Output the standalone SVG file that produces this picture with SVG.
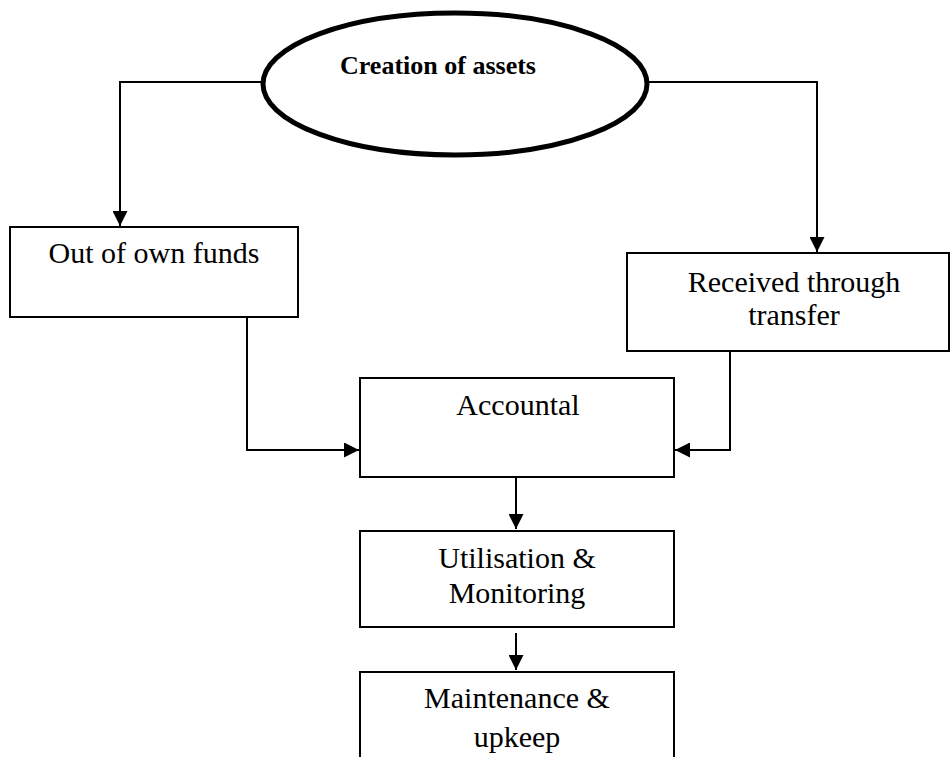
<svg xmlns="http://www.w3.org/2000/svg" width="952" height="757" viewBox="0 0 952 757">
<style>
.box{fill:#fff;stroke:#000;stroke-width:2}
.t{font-family:"Liberation Serif","Times New Roman",serif;font-size:30px;fill:#000;text-anchor:middle}
.tb{font-family:"Liberation Serif","Times New Roman",serif;font-size:26px;font-weight:bold;fill:#000;text-anchor:middle}
.c{fill:none;stroke:#000;stroke-width:2}
</style>
<defs>
<marker id="ah" viewBox="0 0 10 10" refX="10" refY="5" markerWidth="7.5" markerHeight="7.5" markerUnits="strokeWidth" orient="auto">
<path d="M0,0 L10,5 L0,10 z" fill="#000"/>
</marker>
</defs>
<rect width="952" height="757" fill="#fff"/>
<g id="connectors">
<path class="c" d="M263,82 H120 V226" marker-end="url(#ah)"/>
<path class="c" d="M647,82 H817 V252" marker-end="url(#ah)"/>
<path class="c" d="M247,317 V450 H359" marker-end="url(#ah)"/>
<path class="c" d="M730,351 V450 H675" marker-end="url(#ah)"/>
<path class="c" d="M516,477 V529" marker-end="url(#ah)"/>
<path class="c" d="M516,633 V670" marker-end="url(#ah)"/>
</g>
<g id="creation">
<ellipse cx="455" cy="84" rx="192" ry="71" fill="#fff" stroke="#000" stroke-width="5"/>
<text class="tb" x="438" y="74">Creation of assets</text>
</g>
<g id="own-funds">
<rect class="box" x="10" y="227" width="288" height="90"/>
<text class="t" x="154" y="263">Out of own funds</text>
</g>
<g id="transfer">
<rect class="box" x="627" y="253" width="322" height="98"/>
<text class="t" x="794" y="292">Received through</text>
<text class="t" x="794" y="325">transfer</text>
</g>
<g id="accountal">
<rect class="box" x="360" y="378" width="314" height="99"/>
<text class="t" x="518" y="415">Accountal</text>
</g>
<g id="utilisation">
<rect class="box" x="360" y="531" width="314" height="96"/>
<text class="t" x="517" y="568">Utilisation &amp;</text>
<text class="t" x="517" y="603">Monitoring</text>
</g>
<g id="maintenance">
<path class="box" d="M360,760 V672 H674 V760"/>
<text class="t" x="517" y="708">Maintenance &amp;</text>
<text class="t" x="517" y="747">upkeep</text>
</g>
</svg>
